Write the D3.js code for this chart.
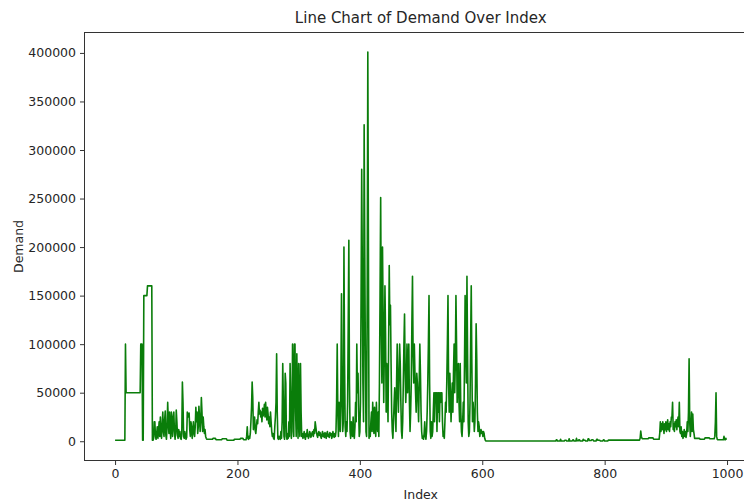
<!DOCTYPE html>
<html>
<head>
<meta charset="utf-8">
<script src="https://cdn.jsdelivr.net/npm/d3@7"></script>
<style>
  html, body { margin: 0; padding: 0; background: #ffffff; }
  svg { display: block; }
  text { font-family: "DejaVu Sans", sans-serif; fill: #262626; }
</style>
</head>
<body>
<svg id="chart" width="744" height="504"></svg>
<script>
// ---- Data (Demand by Index) ----
// Run-length segments: [value, repeatCount]
const startRuns = [[1000, 17]];                                   // idx 0-16
const rampRuns = [[100000, 1], [50000, 24], [100000, 3], [1000, 2],
                  [150000, 6], [160000, 8], [1000, 2]];            // idx 17-62
const dense1 = [                                                   // idx 63-149
  3000, 20000, 20000, 5000, 2000, 8000, 15000, 3000, 10000, 20000,
  5000, 25000, 8000, 3000, 18000, 30000, 10000, 5000, 22000, 31000,
  6000, 2000, 15000, 40000, 20000, 8000, 30000, 12000, 3000, 30000,
  20000, 5000, 25000, 30000, 10000, 2000, 8000, 32000, 20000, 6000,
  3000, 12000, 5000, 10000, 3000, 2000, 8000, 61000, 40000, 5000,
  3000, 10000, 6000, 2000, 4000, 30000, 28000, 25000, 29000, 12000,
  5000, 20000, 15000, 3000, 8000, 20000, 10000, 5000, 15000, 35000,
  20000, 30000, 8000, 15000, 36000, 25000, 10000, 20000, 45000, 30000,
  10000, 25000, 15000, 8000, 12000, 5000, 3000
];
const flat2Runs = [[2000, 10], [3000, 5], [1500, 10], [2500, 8],
                   [1000, 12], [2000, 10], [3000, 5], [1500, 5]];  // idx 150-214
const dense2 = [                                                   // idx 215-305
  5000, 15000, 3000, 2000, 5000, 3000, 8000, 20000, 35000, 61000,
  45000, 12000, 21000, 25000, 11000, 8000, 15000, 22000, 18000, 30000,
  40000, 28000, 32000, 25000, 30000, 20000, 34000, 26000, 30000, 38000,
  25000, 40000, 30000, 22000, 35000, 28000, 18000, 25000, 15000, 30000,
  20000, 10000, 5000, 8000, 3000, 2000, 15000, 25000, 40000, 90000,
  30000, 3000, 2000, 5000, 3000, 2000, 10000, 3000, 20000, 80000,
  40000, 5000, 2000, 70000, 60000, 5000, 2000, 8000, 3000, 20000,
  5000, 80000, 45000, 3000, 10000, 100000, 60000, 5000, 100000, 100000,
  30000, 5000, 90000, 40000, 3000, 80000, 20000, 5000, 80000, 30000,
  5000
];
const dense3 = [                                                   // idx 306-362
  8000, 3000, 6000, 10000, 4000, 2000, 8000, 5000, 12000, 6000,
  3000, 5000, 10000, 8000, 4000, 6000, 9000, 10000, 5000, 12000,
  8000, 20000, 15000, 10000, 6000, 4000, 8000, 10000, 6000, 9000,
  5000, 3000, 7000, 10000, 5000, 8000, 4000, 9000, 6000, 3000,
  8000, 10000, 5000, 7000, 4000, 9000, 6000, 8000, 3000, 5000,
  10000, 6000, 4000, 8000, 5000, 10000, 40000
];
const dense4 = [                                                   // idx 363-605
  100000, 30000, 5000, 40000, 20000, 10000, 60000, 152000, 40000, 10000,
  20000, 200000, 80000, 15000, 5000, 20000, 10000, 40000, 120000, 207000,
  60000, 10000, 3000, 20000, 10000, 5000, 25000, 8000, 3000, 15000,
  40000, 20000, 100000, 50000, 70000, 30000, 5000, 10000, 40000, 150000,
  280000, 180000, 60000, 20000, 326000, 200000, 90000, 10000, 5000, 150000,
  401000, 200000, 3000, 10000, 5000, 20000, 30000, 10000, 40000, 20000,
  8000, 35000, 15000, 5000, 40000, 20000, 10000, 30000, 5000, 60000,
  150000, 251000, 120000, 60000, 200000, 130000, 40000, 90000, 160000, 110000,
  30000, 80000, 60000, 20000, 100000, 181000, 120000, 140000, 80000, 30000,
  10000, 3000, 20000, 40000, 55000, 30000, 10000, 60000, 100000, 50000,
  30000, 70000, 100000, 80000, 40000, 10000, 3000, 20000, 60000, 100000,
  131000, 70000, 40000, 60000, 100000, 50000, 80000, 100000, 40000, 10000,
  30000, 60000, 120000, 170000, 90000, 60000, 100000, 70000, 50000, 30000,
  70000, 60000, 40000, 20000, 60000, 100000, 70000, 30000, 10000, 3000,
  5000, 2000, 8000, 20000, 5000, 2000, 10000, 30000, 60000, 100000,
  150000, 60000, 10000, 3000, 20000, 5000, 10000, 30000, 50000, 20000,
  50000, 40000, 50000, 10000, 50000, 30000, 50000, 20000, 50000, 40000,
  50000, 50000, 20000, 5000, 10000, 3000, 20000, 40000, 30000, 60000,
  100000, 150000, 60000, 30000, 70000, 50000, 20000, 40000, 60000, 30000,
  70000, 100000, 50000, 80000, 150000, 100000, 40000, 60000, 80000, 40000,
  20000, 80000, 30000, 10000, 5000, 20000, 40000, 20000, 80000, 150000,
  100000, 60000, 170000, 90000, 20000, 5000, 10000, 40000, 100000, 160000,
  80000, 20000, 40000, 30000, 10000, 20000, 60000, 121000, 85000, 30000,
  10000, 20000, 15000, 5000, 10000, 12000, 8000, 10000, 5000, 10000,
  8000, 3000, 1000
];
const flat3Runs = [                                                // idx 606-889
  [200, 115],
  [1500, 2], [200, 5], [2000, 1], [200, 6], [1000, 3], [200, 4], [2500, 1],
  [300, 5], [1500, 2], [200, 4], [3000, 1], [500, 3], [1500, 2], [200, 5],
  [2000, 1], [1000, 3], [200, 4], [2500, 2], [800, 4], [1500, 3], [300, 5],
  [2000, 2], [1000, 4], [300, 5], [1500, 2], [200, 6],
  [1200, 52], [3000, 1], [10500, 1],
  [5000, 1], [3000, 1], [2500, 10], [3500, 8], [2000, 10]
];
const dense5 = [                                                   // idx 890-947
  8000, 20000, 10000, 18000, 12000, 20000, 15000, 8000, 18000, 12000,
  20000, 10000, 15000, 22000, 12000, 18000, 10000, 20000, 15000, 25000,
  25000, 40000, 12000, 18000, 10000, 20000, 15000, 22000, 12000, 20000,
  25000, 15000, 40000, 10000, 8000, 15000, 5000, 10000, 3000, 6000,
  12000, 5000, 10000, 4000, 8000, 20000, 10000, 30000, 85000, 20000,
  5000, 15000, 30000, 10000, 28000, 12000, 8000, 3000
];
const tailRuns = [                                                 // idx 948-999
  [3000, 8], [2000, 8], [3500, 8], [2500, 8],
  [5000, 1], [20000, 1], [50000, 1], [5000, 1], [2000, 1],
  [1500, 10], [5000, 1], [2000, 1], [1500, 1], [3000, 1], [1500, 1]
];

const xTicks = [0, 200, 400, 600, 800, 1000];
const yTicks = [0, 50000, 100000, 150000, 200000, 250000, 300000, 350000, 400000];
const titleText = "Line Chart of Demand Over Index";
const xLabel = "Index";
const yLabel = "Demand";

// ---- Assemble series ----
const expand = runs => runs.flatMap(([v, n]) => Array(n).fill(v));
const demand = [].concat(
  expand(startRuns), expand(rampRuns), dense1, expand(flat2Runs),
  dense2, dense3, dense4, expand(flat3Runs), dense5, expand(tailRuns)
);
const series = demand.map((v, i) => ({ index: i, value: v }));

// ---- Layout ----
const svg = d3.select("#chart");
const W = 744, H = 504;
const margin = { left: 84.5, top: 32.5, bottom: 43.5 };
const plotRight = 757;     // axes extends slightly beyond the visible canvas
const plotBottom = H - margin.bottom;

// matplotlib-style 5% margins
const xExt = d3.extent(series, d => d.index);
const yExt = d3.extent(series, d => d.value);
const xPad = (xExt[1] - xExt[0]) * 0.05;
const yPad = (yExt[1] - yExt[0]) * 0.05;

const x = d3.scaleLinear().domain([xExt[0] - xPad, xExt[1] + xPad]).range([margin.left, plotRight]);
const y = d3.scaleLinear().domain([yExt[0] - yPad, yExt[1] + yPad]).range([plotBottom, margin.top]);

svg.append("rect").attr("width", W).attr("height", H).attr("fill", "#ffffff");

// Line
const line = d3.line().x(d => x(d.index)).y(d => y(d.value));
svg.append("path")
  .datum(series)
  .attr("fill", "none")
  .attr("stroke", "#0a7d0a")
  .attr("stroke-width", 1.6)
  .attr("stroke-linejoin", "round")
  .attr("d", line);

// Axes
const tickFont = "12.5px";
const xAxis = svg.append("g")
  .attr("transform", `translate(0,${plotBottom})`)
  .call(d3.axisBottom(x).tickValues(xTicks).tickFormat(d3.format("d")).tickSize(4.5).tickPadding(4).tickSizeOuter(0));
const yAxis = svg.append("g")
  .attr("transform", `translate(${margin.left},0)`)
  .call(d3.axisLeft(y).tickValues(yTicks).tickFormat(d3.format("d")).tickSize(4.5).tickPadding(4).tickSizeOuter(0));

[xAxis, yAxis].forEach(g => {
  g.select(".domain").remove();
  g.selectAll(".tick line").attr("stroke", "#333333").attr("stroke-width", 1);
  g.selectAll(".tick text")
    .attr("font-family", "DejaVu Sans, sans-serif")
    .attr("font-size", tickFont)
    .attr("fill", "#262626");
});

// Spines (frame)
svg.append("rect")
  .attr("x", margin.left)
  .attr("y", margin.top)
  .attr("width", plotRight - margin.left)
  .attr("height", plotBottom - margin.top)
  .attr("fill", "none")
  .attr("stroke", "#333333")
  .attr("stroke-width", 1);

// Title and labels
const plotCenterX = (margin.left + plotRight) / 2;
svg.append("text")
  .attr("x", plotCenterX)
  .attr("y", 23)
  .attr("text-anchor", "middle")
  .attr("font-size", "15px")
  .text(titleText);

svg.append("text")
  .attr("x", plotCenterX)
  .attr("y", 499)
  .attr("text-anchor", "middle")
  .attr("font-size", "12.5px")
  .text(xLabel);

svg.append("text")
  .attr("transform", `translate(23,${(margin.top + plotBottom) / 2}) rotate(-90)`)
  .attr("text-anchor", "middle")
  .attr("font-size", "12.5px")
  .text(yLabel);
</script>
</body>
</html>
